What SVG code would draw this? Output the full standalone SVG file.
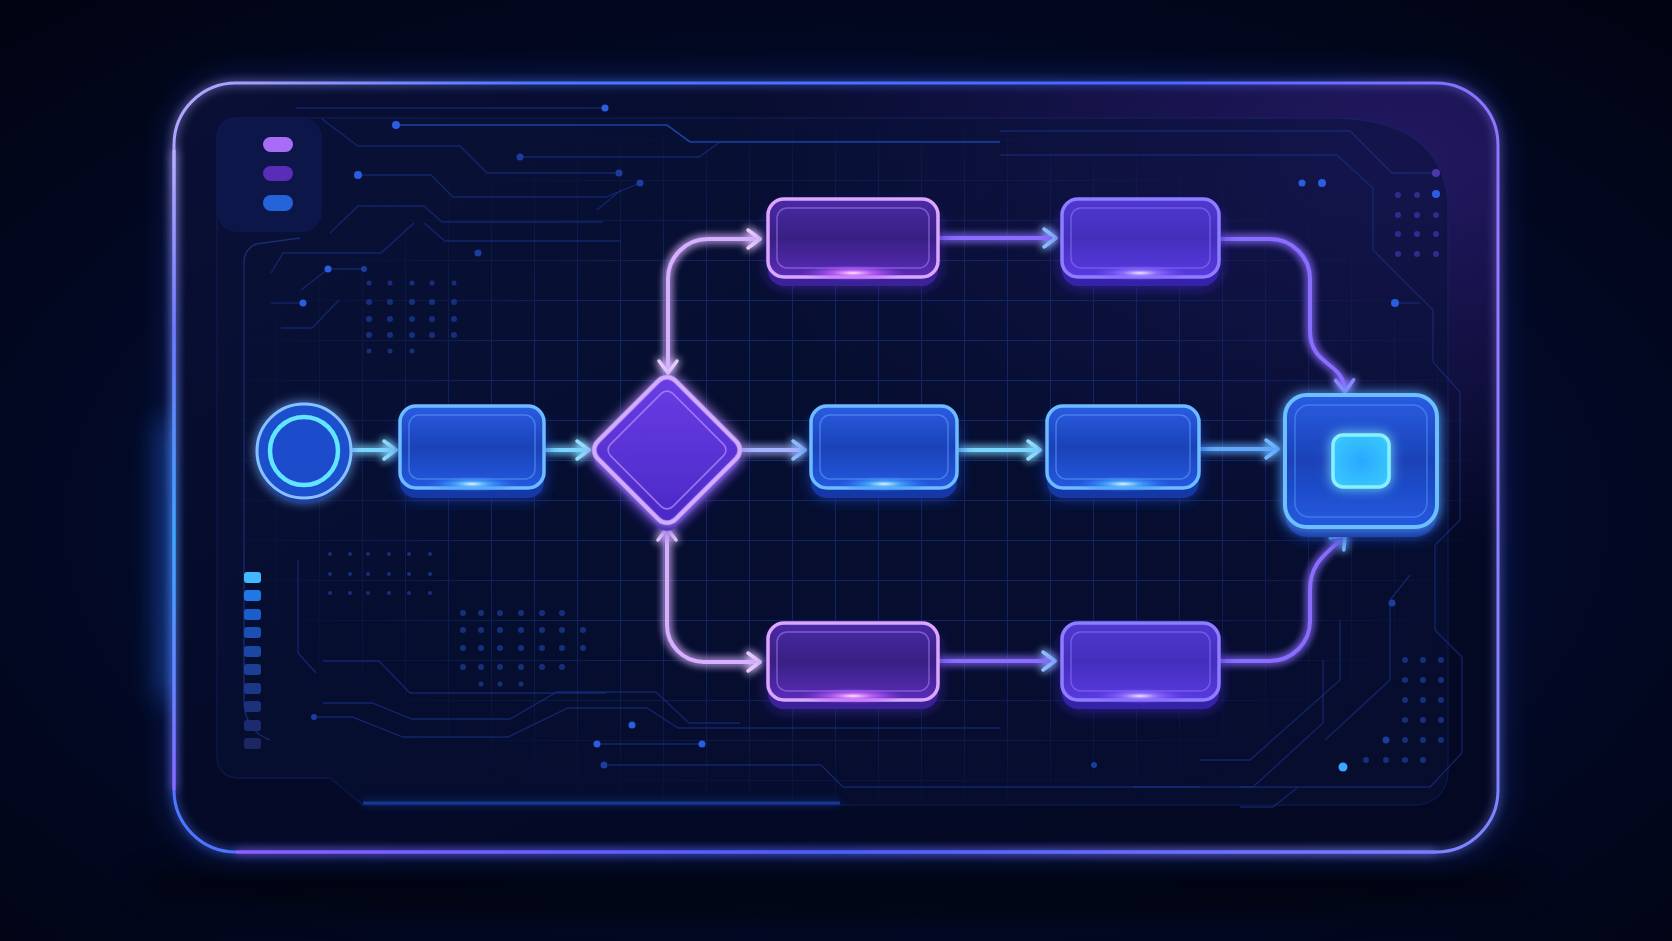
<svg xmlns="http://www.w3.org/2000/svg" width="1672" height="941" viewBox="0 0 1672 941">
<style>
.trace{fill:none;stroke:#1a3388;stroke-width:1.3;opacity:.65}
.trace-b{fill:none;stroke:#2352c8;stroke-width:1.6;opacity:.75}
.tdot{fill:#2a5ee0}
.tdot-d{fill:#1d3d9e}
.gdot{fill:#1c3a96;opacity:.75}
.pdot{fill:#3a2f9a;opacity:.85}
.conn{fill:none;stroke-width:4;stroke-linecap:round;filter:url(#lineGlow)}
.c-cyan{stroke:#7ad6ff}
.c-blue{stroke:#5eaaff}
.c-lav{stroke:#d6afff}
.c-vio{stroke:#8a6cff}
.c-mix{stroke:#a6b4ff}
.depth-blue{fill:#1238a6;filter:url(#softGlow)}
.face-blue{fill:url(#gBlue);stroke:#6cbcff;stroke-width:3.5}
.inset-blue{fill:none;stroke:#6aa8ff;stroke-width:1.5;opacity:.5}
.depth-pink{fill:#3b2198;filter:url(#softGlow)}
.face-pink{fill:url(#gPink);stroke:#dca6ff;stroke-width:3.5}
.inset-pink{fill:none;stroke:#b58cff;stroke-width:1.5;opacity:.5}
.depth-vio{fill:#3521a8;filter:url(#softGlow)}
.face-vio{fill:url(#gVio);stroke:#8f7dff;stroke-width:3.5}
.inset-vio{fill:none;stroke:#8f80ff;stroke-width:1.5;opacity:.5}
.shine-blue{fill:url(#shineBlue)}
.shine-pink{fill:url(#shinePink)}
.shine-vio{fill:url(#shineVio)}
</style>
<defs>
  <radialGradient id="bg" cx="0.5" cy="0.55" r="0.75">
    <stop offset="0" stop-color="#061240"/>
    <stop offset="0.55" stop-color="#030a28"/>
    <stop offset="1" stop-color="#010310"/>
  </radialGradient>
  <linearGradient id="panelFill" x1="0" y1="0" x2="1" y2="1">
    <stop offset="0" stop-color="#0a1036"/>
    <stop offset="0.45" stop-color="#040a28"/>
    <stop offset="1" stop-color="#040822"/>
  </linearGradient>
  <radialGradient id="panelTint" cx="0.92" cy="0.1" r="0.5">
    <stop offset="0" stop-color="#2a1c70" stop-opacity="0.8"/>
    <stop offset="1" stop-color="#2a1c70" stop-opacity="0"/>
  </radialGradient>
  <linearGradient id="panelStroke" gradientUnits="userSpaceOnUse" x1="174" y1="83" x2="1498" y2="852">
    <stop offset="0" stop-color="#b8a8ff"/>
    <stop offset="0.2" stop-color="#4f78ff"/>
    <stop offset="0.55" stop-color="#4a66ff"/>
    <stop offset="0.8" stop-color="#9a78ff"/>
    <stop offset="1" stop-color="#7a86ff"/>
  </linearGradient>
  <linearGradient id="leftEdge" gradientUnits="userSpaceOnUse" x1="0" y1="120" x2="0" y2="820">
    <stop offset="0" stop-color="#c8b8ff"/>
    <stop offset="0.3" stop-color="#6b78ff"/>
    <stop offset="0.6" stop-color="#3aa8ff"/>
    <stop offset="1" stop-color="#9560ff"/>
  </linearGradient>
  <linearGradient id="bottomEdge" gradientUnits="userSpaceOnUse" x1="200" y1="0" x2="1470" y2="0">
    <stop offset="0" stop-color="#9a5cff"/>
    <stop offset="0.5" stop-color="#4a5cff"/>
    <stop offset="1" stop-color="#7a80ff"/>
  </linearGradient>
  <linearGradient id="gBlue" x1="0" y1="0" x2="0" y2="1">
    <stop offset="0" stop-color="#2a5ce2"/>
    <stop offset="0.5" stop-color="#1a42b8"/>
    <stop offset="1" stop-color="#2459e0"/>
  </linearGradient>
  <linearGradient id="gPink" x1="0" y1="0" x2="0" y2="1">
    <stop offset="0" stop-color="#4a2aa4"/>
    <stop offset="0.5" stop-color="#381f84"/>
    <stop offset="1" stop-color="#5a2cb8"/>
  </linearGradient>
  <linearGradient id="gVio" x1="0" y1="0" x2="0" y2="1">
    <stop offset="0" stop-color="#5038d0"/>
    <stop offset="0.5" stop-color="#432ebc"/>
    <stop offset="1" stop-color="#5a3ae0"/>
  </linearGradient>
  <linearGradient id="gDiamond" x1="0" y1="0" x2="1" y2="1">
    <stop offset="0" stop-color="#6a3ee6"/>
    <stop offset="1" stop-color="#4a28c4"/>
  </linearGradient>
  <radialGradient id="shineBlue" cx="0.5" cy="0.5" r="0.5">
    <stop offset="0" stop-color="#e6f6ff"/>
    <stop offset="0.35" stop-color="#4fb4ff" stop-opacity="0.8"/>
    <stop offset="1" stop-color="#2a70ff" stop-opacity="0"/>
  </radialGradient>
  <radialGradient id="shinePink" cx="0.5" cy="0.5" r="0.5">
    <stop offset="0" stop-color="#ffe6ff"/>
    <stop offset="0.35" stop-color="#d070ff" stop-opacity="0.8"/>
    <stop offset="1" stop-color="#9a40ff" stop-opacity="0"/>
  </radialGradient>
  <radialGradient id="shineVio" cx="0.5" cy="0.5" r="0.5">
    <stop offset="0" stop-color="#f0eaff"/>
    <stop offset="0.35" stop-color="#9a7aff" stop-opacity="0.8"/>
    <stop offset="1" stop-color="#6a40ff" stop-opacity="0"/>
  </radialGradient>
  <radialGradient id="gCyanSq" cx="0.5" cy="0.5" r="0.6">
    <stop offset="0" stop-color="#2aa8ff"/>
    <stop offset="1" stop-color="#38c8ff"/>
  </radialGradient>
  <radialGradient id="gridFade" cx="0.5" cy="0.5" r="0.55">
    <stop offset="0.55" stop-color="#fff"/>
    <stop offset="1" stop-color="#000"/>
  </radialGradient>
  <pattern id="grid" patternUnits="userSpaceOnUse" x="276" y="380" width="43" height="40">
    <path d="M0.5 0 V40 M0 0.5 H43" fill="none" stroke="#132c72" stroke-width="1"/>
  </pattern>
  <mask id="gridMask">
    <rect x="240" y="130" width="1230" height="670" fill="url(#gridFade)"/>
  </mask>
  <filter id="lineGlow" filterUnits="userSpaceOnUse" x="0" y="0" width="1672" height="941">
    <feGaussianBlur in="SourceGraphic" stdDeviation="4" result="b"/>
    <feMerge><feMergeNode in="b"/><feMergeNode in="b"/><feMergeNode in="SourceGraphic"/></feMerge>
  </filter>
  <filter id="nodeGlow" x="-30%" y="-40%" width="160%" height="180%">
    <feGaussianBlur in="SourceGraphic" stdDeviation="6" result="b"/>
    <feMerge><feMergeNode in="b"/><feMergeNode in="SourceGraphic"/></feMerge>
  </filter>
  <filter id="softGlow" x="-30%" y="-40%" width="160%" height="200%">
    <feGaussianBlur in="SourceGraphic" stdDeviation="8" result="b"/>
    <feMerge><feMergeNode in="b"/><feMergeNode in="SourceGraphic"/></feMerge>
  </filter>
  <filter id="bigBlur" filterUnits="userSpaceOnUse" x="0" y="0" width="1672" height="941">
    <feGaussianBlur stdDeviation="14"/>
  </filter>
  <filter id="edgeGlow" filterUnits="userSpaceOnUse" x="0" y="0" width="1672" height="941">
    <feGaussianBlur in="SourceGraphic" stdDeviation="5" result="b"/>
    <feMerge><feMergeNode in="b"/><feMergeNode in="SourceGraphic"/></feMerge>
  </filter>
  <marker id="mCyan" viewBox="0 0 20 24" markerUnits="userSpaceOnUse" markerWidth="20" markerHeight="24" refX="16" refY="12" orient="auto-start-reverse">
    <path d="M4 3 L16 12 L4 21" fill="none" stroke="#8ee0ff" stroke-width="3.5" stroke-linecap="round" stroke-linejoin="round"/>
  </marker>
  <marker id="mBlue" viewBox="0 0 20 24" markerUnits="userSpaceOnUse" markerWidth="20" markerHeight="24" refX="16" refY="12" orient="auto-start-reverse">
    <path d="M4 3 L16 12 L4 21" fill="none" stroke="#72baff" stroke-width="3.5" stroke-linecap="round" stroke-linejoin="round"/>
  </marker>
  <marker id="mLav" viewBox="0 0 20 24" markerUnits="userSpaceOnUse" markerWidth="20" markerHeight="24" refX="16" refY="12" orient="auto-start-reverse">
    <path d="M4 3 L16 12 L4 21" fill="none" stroke="#e6caff" stroke-width="3.5" stroke-linecap="round" stroke-linejoin="round"/>
  </marker>
  <marker id="mVio" viewBox="0 0 20 24" markerUnits="userSpaceOnUse" markerWidth="20" markerHeight="24" refX="16" refY="12" orient="auto-start-reverse">
    <path d="M4 3 L16 12 L4 21" fill="none" stroke="#8a86ff" stroke-width="3.5" stroke-linecap="round" stroke-linejoin="round"/>
  </marker>
  <marker id="mSky" viewBox="0 0 20 24" markerUnits="userSpaceOnUse" markerWidth="20" markerHeight="24" refX="16" refY="12" orient="auto-start-reverse">
    <path d="M4 3 L16 12 L4 21" fill="none" stroke="#8ebcff" stroke-width="3.5" stroke-linecap="round" stroke-linejoin="round"/>
  </marker>
</defs>

<!-- background -->
<rect width="1672" height="941" fill="url(#bg)"/>
<ellipse cx="836" cy="885" rx="700" ry="36" fill="#000" opacity="0.5" filter="url(#bigBlur)"/>

<!-- panel glow + panel -->
<g id="panel">
  <rect x="174" y="83" width="1324" height="769" rx="62" fill="none" stroke="#2a5cff" stroke-width="12" opacity="0.3" filter="url(#bigBlur)"/>
  <path d="M170 420 V700" stroke="#2a7cff" stroke-width="22" opacity="0.45" filter="url(#bigBlur)"/>
  <rect x="174" y="83" width="1324" height="769" rx="62" fill="url(#panelFill)"/>
  <rect x="174" y="83" width="1324" height="769" rx="62" fill="url(#panelTint)"/>
  <rect x="174" y="83" width="1324" height="769" rx="62" fill="none" stroke="url(#panelStroke)" stroke-width="3" filter="url(#edgeGlow)"/>
  <path d="M174 150 V790" fill="none" stroke="url(#leftEdge)" stroke-width="3" filter="url(#edgeGlow)"/>
  <path d="M236 852 H1436" fill="none" stroke="url(#bottomEdge)" stroke-width="3" filter="url(#edgeGlow)"/>
  <!-- inner frame -->
  <path d="M217 140 Q217 118 239 118 H1330 Q1440 118 1448 200 V770 Q1448 800 1418 805 H363 L330 778 H240 Q217 778 217 755 Z" fill="#081238" opacity="0.5" stroke="#14266a" stroke-width="1.4"/>
  <rect x="217" y="118" width="105" height="114" rx="20" fill="#111a55" opacity="0.65"/>
  <path d="M244 262 Q244 250 256 244 L300 238" fill="none" stroke="#1a2c72" stroke-width="1.4"/>
  <path d="M244 262 V700 Q244 730 270 740" fill="none" stroke="#17286a" stroke-width="1.4"/>
  <path d="M363 803 H840" stroke="#2452d8" stroke-width="3" opacity="0.6" filter="url(#edgeGlow)"/>
</g>

<!-- grid -->
<rect x="240" y="130" width="1230" height="670" fill="url(#grid)" mask="url(#gridMask)" opacity="0.8"/>

<!-- circuit traces -->
<g id="traces">
  <path class="trace" d="M296 108 H605"/>
  <path class="trace" d="M322 119 L358 146 H460 L487 173 H619"/>
  <path class="trace-b" d="M396 125 H667 L690 142 H1000"/>
  <path class="trace" d="M1000 131 H1350 L1392 173 H1436"/>
  <path class="trace" d="M520 157 H699 L720 142"/>
  <path class="trace" d="M358 175 H431 L453 197 H606 L640 183"/>
  <path class="trace" d="M330 233 L358 206 H424 L442 222 H603"/>
  <path class="trace" d="M271 273 L283 253 H381 L414 223"/>
  <path class="trace" d="M424 223 L445 241 H621"/>
  <path class="trace" d="M328 269 H364 M328 269 L301 290"/>
  <path class="trace" d="M271 303 H303"/>
  <path class="trace" d="M281 328 H312 L339 300"/>
  <path class="trace" d="M597 210 L621 190"/>
  <path class="trace" d="M1000 155 H1337 L1373 188 V250 L1433 310 V362 L1460 392 V520 L1435 545 V630 L1462 657 V753 L1430 787 H1240"/>
  <path class="trace" d="M1395 303 H1420"/>
  <path class="trace" d="M298 560 V653 L316 673"/>
  <path class="trace" d="M323 661 H379 L410 693 H606"/>
  <path class="trace" d="M323 703 H372 L412 719 H510 L557 692 H656 L689 723 H740"/>
  <path class="trace" d="M314 717 H352 L403 737 H508 L568 708 H647 L678 728 H1000"/>
  <path class="trace" d="M597 744 H702"/>
  <path class="trace" d="M604 765 H821 L843 787 H1200"/>
  <path class="trace" d="M1133 787 H1253 L1323 723 V660"/>
  <path class="trace" d="M1240 807 H1273 L1297 788"/>
  <path class="trace" d="M1200 760 H1250 L1340 680 V620"/>
  <path class="trace" d="M1325 740 L1390 680 V600 L1410 575"/>
  <circle class="tdot" cx="605" cy="108" r="3.5"/>
  <circle class="tdot" cx="396" cy="125" r="4"/>
  <circle class="tdot-d" cx="619" cy="173" r="3.5"/>
  <circle class="tdot-d" cx="520" cy="157" r="3.5"/>
  <circle class="tdot" cx="358" cy="175" r="4"/>
  <circle class="tdot-d" cx="640" cy="183" r="3.5"/>
  <circle class="tdot-d" cx="478" cy="253" r="3.5"/>
  <circle class="tdot" cx="328" cy="269" r="3.5"/>
  <circle class="tdot-d" cx="364" cy="269" r="3"/>
  <circle class="tdot" cx="303" cy="303" r="3.5"/>
  <circle class="tdot" cx="1302" cy="183" r="3.5"/>
  <circle class="tdot" cx="1322" cy="183" r="4"/>
  <circle fill="#4a38b0" cx="1436" cy="173" r="4"/>
  <circle class="tdot" cx="1436" cy="194" r="4"/>
  <circle class="tdot" cx="1395" cy="303" r="4"/>
  <circle class="tdot" cx="632" cy="725" r="3.5"/>
  <circle class="tdot" cx="597" cy="744" r="3.5"/>
  <circle class="tdot" cx="702" cy="744" r="3.5"/>
  <circle class="tdot-d" cx="604" cy="765" r="3.5"/>
  <circle class="tdot-d" cx="314" cy="717" r="3"/>
  <circle class="tdot-d" cx="1094" cy="765" r="3"/>
  <circle fill="#3aa8ff" cx="1343" cy="767" r="4.5"/>
  <circle class="tdot-d" cx="1386" cy="740" r="3.5"/>
  <circle class="tdot-d" cx="1392" cy="603" r="3.5"/>
</g>

<!-- dot clusters -->
<g id="dots">
  <g class="gdot">
    <circle cx="369" cy="283" r="2.5"/><circle cx="390" cy="283" r="2.5"/><circle cx="412" cy="283" r="2.5"/><circle cx="432" cy="283" r="2.5"/><circle cx="454" cy="283" r="2.5"/>
    <circle cx="369" cy="302" r="3"/><circle cx="390" cy="302" r="3"/><circle cx="412" cy="302" r="3"/><circle cx="432" cy="302" r="3"/><circle cx="454" cy="302" r="3"/>
    <circle cx="369" cy="319" r="3"/><circle cx="390" cy="319" r="3"/><circle cx="412" cy="319" r="3"/><circle cx="432" cy="319" r="3"/><circle cx="454" cy="319" r="3"/>
    <circle cx="369" cy="335" r="3"/><circle cx="390" cy="335" r="3"/><circle cx="412" cy="335" r="3"/><circle cx="432" cy="335" r="3"/><circle cx="454" cy="335" r="3"/>
    <circle cx="369" cy="351" r="2.5"/><circle cx="390" cy="351" r="2.5"/><circle cx="412" cy="351" r="2.5"/>
    <circle cx="330" cy="554" r="2"/><circle cx="350" cy="554" r="2"/><circle cx="368" cy="554" r="2"/><circle cx="389" cy="554" r="2"/><circle cx="409" cy="554" r="2"/><circle cx="430" cy="554" r="2"/>
    <circle cx="330" cy="574" r="2"/><circle cx="350" cy="574" r="2"/><circle cx="368" cy="574" r="2"/><circle cx="389" cy="574" r="2"/><circle cx="409" cy="574" r="2"/><circle cx="430" cy="574" r="2"/>
    <circle cx="330" cy="593" r="2"/><circle cx="350" cy="593" r="2"/><circle cx="368" cy="593" r="2"/><circle cx="389" cy="593" r="2"/><circle cx="409" cy="593" r="2"/><circle cx="430" cy="593" r="2"/>
    <circle cx="463" cy="613" r="3"/><circle cx="481" cy="613" r="3"/><circle cx="500" cy="613" r="3"/><circle cx="521" cy="613" r="3"/><circle cx="542" cy="613" r="3"/><circle cx="562" cy="613" r="3"/>
    <circle cx="463" cy="630" r="3"/><circle cx="481" cy="630" r="3"/><circle cx="500" cy="630" r="3"/><circle cx="521" cy="630" r="3"/><circle cx="542" cy="630" r="3"/><circle cx="562" cy="630" r="3"/><circle cx="583" cy="630" r="3"/>
    <circle cx="463" cy="648" r="3"/><circle cx="481" cy="648" r="3"/><circle cx="500" cy="648" r="3"/><circle cx="521" cy="648" r="3"/><circle cx="542" cy="648" r="3"/><circle cx="562" cy="648" r="3"/><circle cx="583" cy="648" r="3"/>
    <circle cx="463" cy="667" r="3"/><circle cx="481" cy="667" r="3"/><circle cx="500" cy="667" r="3"/><circle cx="521" cy="667" r="3"/><circle cx="542" cy="667" r="3"/><circle cx="562" cy="667" r="3"/>
    <circle cx="481" cy="684" r="2.5"/><circle cx="500" cy="684" r="2.5"/><circle cx="521" cy="684" r="2.5"/>
    <circle cx="1405" cy="660" r="3"/><circle cx="1423" cy="660" r="3"/><circle cx="1441" cy="660" r="3"/>
    <circle cx="1405" cy="680" r="3"/><circle cx="1423" cy="680" r="3"/><circle cx="1441" cy="680" r="3"/>
    <circle cx="1405" cy="700" r="3"/><circle cx="1423" cy="700" r="3"/><circle cx="1441" cy="700" r="3"/>
    <circle cx="1405" cy="720" r="3"/><circle cx="1423" cy="720" r="3"/><circle cx="1441" cy="720" r="3"/>
    <circle cx="1405" cy="740" r="3"/><circle cx="1423" cy="740" r="3"/><circle cx="1441" cy="740" r="3"/>
    <circle cx="1366" cy="760" r="3"/><circle cx="1386" cy="760" r="3"/><circle cx="1405" cy="760" r="3"/><circle cx="1423" cy="760" r="3"/>
  </g>
  <g class="pdot">
    <circle cx="1398" cy="195" r="3"/><circle cx="1417" cy="195" r="3"/>
    <circle cx="1398" cy="215" r="3"/><circle cx="1417" cy="215" r="3"/><circle cx="1436" cy="215" r="3"/>
    <circle cx="1398" cy="234" r="3"/><circle cx="1417" cy="234" r="3"/><circle cx="1436" cy="234" r="3"/>
    <circle cx="1398" cy="254" r="3"/><circle cx="1417" cy="254" r="3"/><circle cx="1436" cy="254" r="3"/>
  </g>
</g>

<!-- sidebar -->
<g id="sidebar">
  <rect x="263" y="137" width="30" height="15" rx="7.5" fill="#a86cf6"/>
  <rect x="263" y="166" width="30" height="15" rx="7.5" fill="#5a2db8"/>
  <rect x="263" y="195" width="30" height="16" rx="8" fill="#2563d8"/>
  <rect x="244" y="572" width="17" height="11" rx="3" fill="#41b8ff"/>
  <rect x="244" y="590" width="17" height="11" rx="3" fill="#1f78e6"/>
  <rect x="244" y="609" width="17" height="11" rx="3" fill="#1b5ecb"/>
  <rect x="244" y="627" width="17" height="11" rx="3" fill="#1a50b2"/>
  <rect x="244" y="646" width="17" height="11" rx="3" fill="#1a47a2"/>
  <rect x="244" y="664" width="17" height="11" rx="3" fill="#1b3f93"/>
  <rect x="244" y="683" width="17" height="11" rx="3" fill="#1b3886"/>
  <rect x="244" y="701" width="17" height="11" rx="3" fill="#1b3179"/>
  <rect x="244" y="720" width="17" height="11" rx="3" fill="#1b2b6d"/>
  <rect x="244" y="738" width="17" height="11" rx="3" fill="#1c2663"/>
</g>

<!-- connectors -->
<g id="connectors">
  <path class="conn c-cyan" d="M353 450 H396" marker-end="url(#mCyan)"/>
  <path class="conn c-cyan" d="M544 450 H589" marker-end="url(#mCyan)"/>
  <path class="conn c-mix" d="M742 450 H805" marker-end="url(#mSky)"/>
  <path class="conn c-cyan" d="M957 450 H1040" marker-end="url(#mCyan)"/>
  <path class="conn c-blue" d="M1199 449 H1278" marker-end="url(#mBlue)"/>
  <path class="conn c-lav" d="M668 373 V279 A40 40 0 0 1 708 239 H760" marker-start="url(#mLav)" marker-end="url(#mLav)"/>
  <path class="conn c-vio" d="M938 238 H1056" marker-end="url(#mSky)"/>
  <path class="conn c-vio" d="M1219 239 H1270 A40 40 0 0 1 1310 279 V330 C1310 368 1344 360 1345 392" marker-end="url(#mVio)"/>
  <path class="conn c-lav" d="M667 528 V625 A37 37 0 0 0 704 662 H760" marker-start="url(#mLav)" marker-end="url(#mLav)"/>
  <path class="conn c-vio" d="M938 661 H1055" marker-end="url(#mSky)"/>
  <path class="conn c-vio" d="M1218 661 H1270 A40 40 0 0 0 1310 621 V590 C1310 560 1330 552 1345 535" marker-end="url(#mBlue)"/>
</g>

<!-- nodes -->
<g id="start" filter="url(#nodeGlow)">
  <circle cx="304" cy="456" r="47" fill="#1436a0" opacity="0.8"/>
  <circle cx="304" cy="451" r="47" fill="#1d50cc" stroke="#86c2ff" stroke-width="3"/>
  <circle cx="304" cy="451" r="34" fill="#1a4bcc" stroke="#62e6ff" stroke-width="4.5"/>
</g>

<g id="task1">
  <rect class="depth-blue" x="400" y="416" width="144" height="82" rx="16"/>
  <rect class="face-blue" x="400" y="406" width="144" height="82" rx="16"/>
  <rect class="inset-blue" x="409" y="415" width="126" height="64" rx="10"/>
  <ellipse class="shine-blue" cx="472" cy="484" rx="46" ry="8"/>
</g>

<g id="decision">
  <rect x="-55" y="-55" width="110" height="110" rx="12" fill="#3a22a8" transform="translate(667 458) rotate(45)" filter="url(#softGlow)"/>
  <rect x="-55" y="-55" width="110" height="110" rx="12" fill="url(#gDiamond)" stroke="#d2acff" stroke-width="4.5" transform="translate(667 450) rotate(45)" filter="url(#nodeGlow)"/>
  <rect x="-44" y="-44" width="88" height="88" rx="8" fill="none" stroke="#b892ff" stroke-width="1.6" opacity="0.7" transform="translate(667 450) rotate(45)"/>
</g>

<g id="top1">
  <rect class="depth-pink" x="768" y="208" width="170" height="78" rx="16"/>
  <rect class="face-pink" x="768" y="199" width="170" height="78" rx="16"/>
  <rect class="inset-pink" x="777" y="208" width="152" height="60" rx="10"/>
  <ellipse class="shine-pink" cx="853" cy="273" rx="52" ry="8"/>
</g>

<g id="top2">
  <rect class="depth-vio" x="1062" y="208" width="157" height="78" rx="16"/>
  <rect class="face-vio" x="1062" y="199" width="157" height="78" rx="16"/>
  <rect class="inset-vio" x="1071" y="208" width="139" height="60" rx="10"/>
  <ellipse class="shine-vio" cx="1140" cy="273" rx="48" ry="8"/>
</g>

<g id="task2">
  <rect class="depth-blue" x="811" y="416" width="146" height="82" rx="16"/>
  <rect class="face-blue" x="811" y="406" width="146" height="82" rx="16"/>
  <rect class="inset-blue" x="820" y="415" width="128" height="64" rx="10"/>
  <ellipse class="shine-blue" cx="884" cy="484" rx="46" ry="8"/>
</g>

<g id="task3">
  <rect class="depth-blue" x="1047" y="416" width="152" height="82" rx="16"/>
  <rect class="face-blue" x="1047" y="406" width="152" height="82" rx="16"/>
  <rect class="inset-blue" x="1056" y="415" width="134" height="64" rx="10"/>
  <ellipse class="shine-blue" cx="1123" cy="484" rx="48" ry="8"/>
</g>

<g id="bottom1">
  <rect class="depth-pink" x="768" y="632" width="170" height="77" rx="16"/>
  <rect class="face-pink" x="768" y="623" width="170" height="77" rx="16"/>
  <rect class="inset-pink" x="777" y="632" width="152" height="59" rx="10"/>
  <ellipse class="shine-pink" cx="853" cy="696" rx="52" ry="8"/>
</g>

<g id="bottom2">
  <rect class="depth-vio" x="1062" y="632" width="157" height="77" rx="16"/>
  <rect class="face-vio" x="1062" y="623" width="157" height="77" rx="16"/>
  <rect class="inset-vio" x="1071" y="632" width="139" height="59" rx="10"/>
  <ellipse class="shine-vio" cx="1140" cy="696" rx="48" ry="8"/>
</g>

<g id="end">
  <rect x="1285" y="405" width="152" height="132" rx="22" fill="#1238a6" filter="url(#softGlow)"/>
  <rect x="1285" y="395" width="152" height="132" rx="22" fill="url(#gBlue)" stroke="#6cc0ff" stroke-width="4" filter="url(#nodeGlow)"/>
  <rect x="1295" y="405" width="132" height="112" rx="14" fill="none" stroke="#5aa0ff" stroke-width="1.5" opacity="0.5"/>
  <rect x="1333" y="435" width="56" height="52" rx="10" fill="url(#gCyanSq)" stroke="#8af0ff" stroke-width="3.5" filter="url(#nodeGlow)"/>
</g>
</svg>
